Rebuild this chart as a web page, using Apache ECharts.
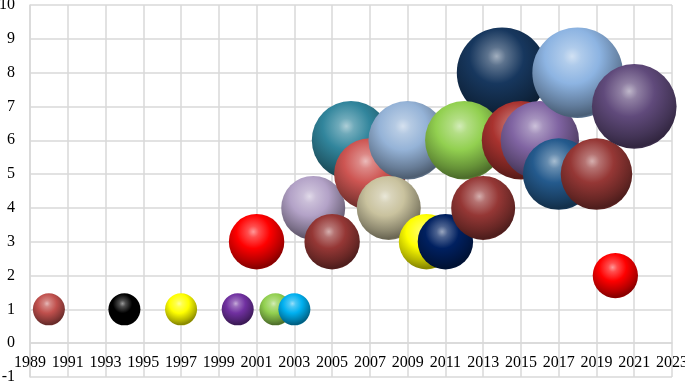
<!DOCTYPE html>
<html>
<head>
<meta charset="utf-8">
<script src="https://cdn.jsdelivr.net/npm/echarts@6/dist/echarts.min.js"></script>
<style>
html,body{margin:0;padding:0;background:#fff;}
#chart{width:685px;height:384px;}
</style>
</head>
<body>
<div id="chart"></div>
<script>
// Data (drawing order as in the reference)
var years  = [1990,1994,1997,2000,2001,2002,2003,2004,2005,2006,2007,2009,2008,2010,2011,2014,2012,2013,2015,2016,2017,2018,2019,2020,2021];
var values = [1,1,1,1,3,1,1,4,3,6,5,6,4,3,3,8,6,4,6,6,5,8,5,2,7];
var bubbleSizes = [1,1,1,1,3,1,1,4,3,6,5,6,4,3,3,8,6,4,6,6,5,8,5,2,7];
var colors = ['#C0504D','#000000','#FFFF00','#7030A0','#FF0000','#92D050','#00B0F0','#B3A2C7','#953735','#31859C','#CD5552','#95B3D7','#C9C29E','#FFFF00','#002060','#17375E','#92D050','#953735','#A9332F','#8064A2','#245A8D','#8DB4E2','#953735','#FF0000','#604A7B'];
var yearStart = 1989, yearEnd = 2023, yearStep = 2;
var yMin = -1, yMax = 10, yStep = 1;

function hexToRgb(h){h=h.replace('#','');return [parseInt(h.substr(0,2),16),parseInt(h.substr(2,2),16),parseInt(h.substr(4,2),16)];}
function mix(c, t, a){var r=hexToRgb(c);var m=t==='w'?255:0;return 'rgb('+r.map(function(v){return Math.round(v+(m-v)*a);}).join(',')+')';}
function sphere(c){
  return new echarts.graphic.RadialGradient(0.44, 0.32, 0.72, [
    {offset:0, color:mix(c,'w',0.6)},
    {offset:0.14, color:mix(c,'w',0.3)},
    {offset:0.42, color:c},
    {offset:0.75, color:mix(c,'b',0.3)},
    {offset:0.92, color:mix(c,'b',0.48)},
    {offset:1, color:mix(c,'b',0.2)}
  ]);
}

var data = years.map(function(y,i){
  return {value:[y-yearStart, values[i], bubbleSizes[i]], itemStyle:{color:sphere(colors[i]), opacity:1}};
});

var chart = echarts.init(document.getElementById('chart'));
var font = 'Liberation Serif, Times New Roman, serif';
chart.setOption({
  animation:false,
  grid:{left:30,right:13,top:5,bottom:7,containLabel:false,outerBoundsMode:'none'},
  xAxis:[{
    type:'value', min:0, max:yearEnd-yearStart, interval:yearStep,
    position:'bottom', offset:-34,
    axisLine:{show:true,onZero:false,lineStyle:{color:'#d9d9d9',width:1.5}},
    axisTick:{show:false},
    axisLabel:{color:'#000',fontFamily:font,fontSize:16,margin:12,
      formatter:function(v){return String(v+yearStart);}},
    splitLine:{show:true,lineStyle:{color:'#d9d9d9',width:1.5}}
  }],
  yAxis:{
    type:'value', min:yMin, max:yMax, interval:yStep,
    axisLine:{show:true,onZero:false,lineStyle:{color:'#d9d9d9',width:1.5}},
    axisTick:{show:false},
    axisLabel:{color:'#000',fontFamily:font,fontSize:16,margin:15},
    splitLine:{show:true,lineStyle:{color:'#d9d9d9',width:1.5}}
  },
  series:[{
    type:'scatter',
    clip:false,
    data:data,
    itemStyle:{opacity:1},
    symbolSize:function(v){return 32*Math.sqrt(v[2]);},
    emphasis:{disabled:true},
    silent:true
  }]
});
</script>
</body>
</html>
